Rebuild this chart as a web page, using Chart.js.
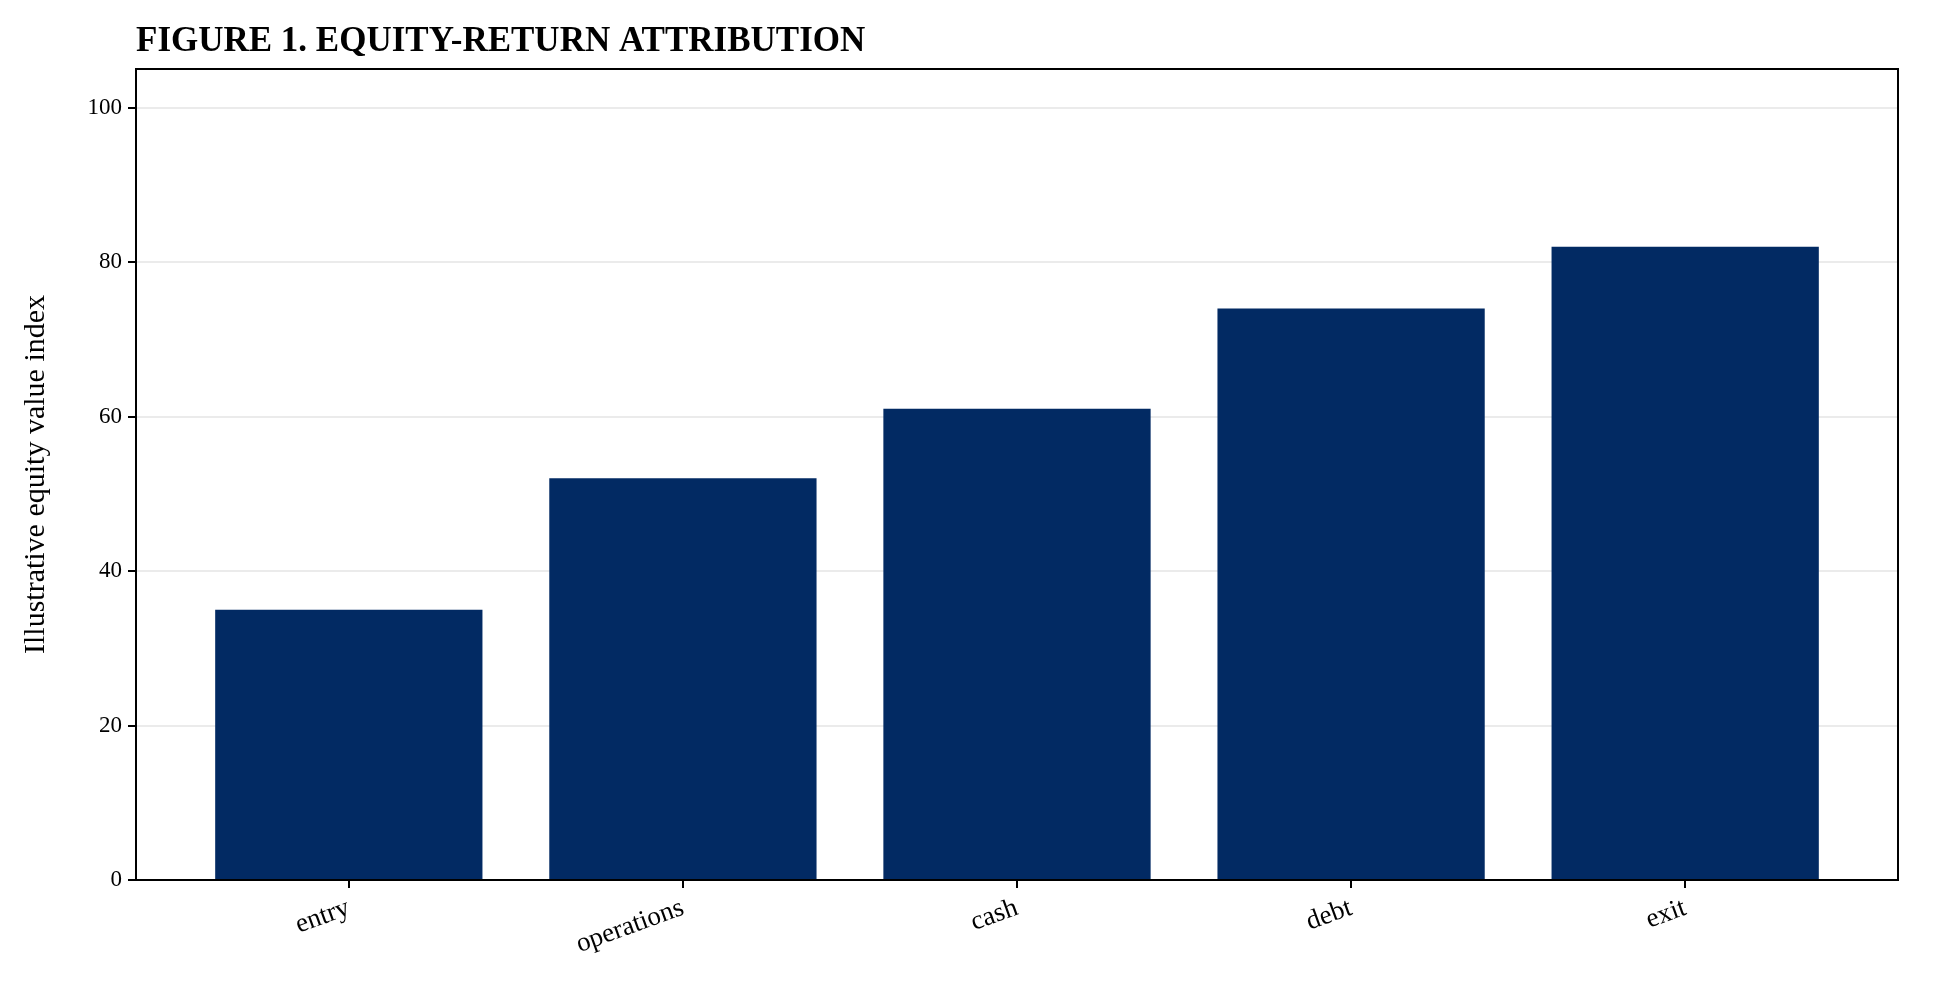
<!DOCTYPE html>
<html><head><meta charset="utf-8">
<script src="https://cdn.jsdelivr.net/npm/chart.js@4"></script>
<style>html,body{margin:0;padding:0;background:#fff}#w{width:1939px;height:983px}</style>
</head><body><div id="w"><canvas id="c"></canvas></div>
<script>
const categories = ["entry","operations","cash","debt","exit"];
const values = [35, 52, 61, 74, 82];
const yTicks = [0,20,40,60,80,100];
const titleText = 'FIGURE 1. EQUITY-RETURN ATTRIBUTION';
const F = "'Liberation Serif','Times New Roman',serif";
const boxPlugin = {id:'box', afterDraw(ch){const a=ch.chartArea,c=ch.ctx;c.save();c.strokeStyle='#000';c.lineWidth=2;c.strokeRect(a.left,a.top,a.right-a.left,a.bottom-a.top);
  c.fillStyle='#000';c.font="bold 35px "+F;c.textBaseline='alphabetic';c.textAlign='left';c.fillText(titleText,a.left,a.top-18);c.restore();}};
new Chart(document.getElementById('c'), {
  type:'bar',
  data:{datasets:[{data:values.map((v,i)=>({x:i,y:v})),backgroundColor:'#022a63',barPercentage:0.8,categoryPercentage:1}]},
  options:{responsive:true,maintainAspectRatio:false,animation:false,
    layout:{padding:{top:69,right:41,left:14,bottom:0}},
    plugins:{legend:{display:false},tooltip:{enabled:false},title:{display:false}},
    scales:{
      x:{type:'linear',min:-0.637,max:4.637,offset:false,
        afterBuildTicks(s){s.ticks=categories.map((_,i)=>({value:i}));},
        afterFit(s){s.height=103;},
        ticks:{callback:(v)=>categories[v],color:'#000',font:{family:F,size:27},minRotation:20,maxRotation:20,autoSkip:false,padding:4},
        grid:{offset:false,drawOnChartArea:false,color:'#000',tickColor:'#000',tickLength:8,lineWidth:2},border:{display:false}},
      y:{min:0,max:105,
        afterBuildTicks(s){s.ticks=yTicks.map(v=>({value:v}));},
        afterFit(s){s.width=122;},
        title:{display:true,text:'Illustrative equity value index',color:'#000',font:{family:F,size:30},padding:{bottom:10}},
        ticks:{color:'#000',font:{family:F,size:23},padding:6},
        grid:{color:'#ebebeb',lineWidth:2,tickColor:'#000',tickLength:8},border:{display:false}}
    }},
  plugins:[boxPlugin]
});
</script></body></html>
